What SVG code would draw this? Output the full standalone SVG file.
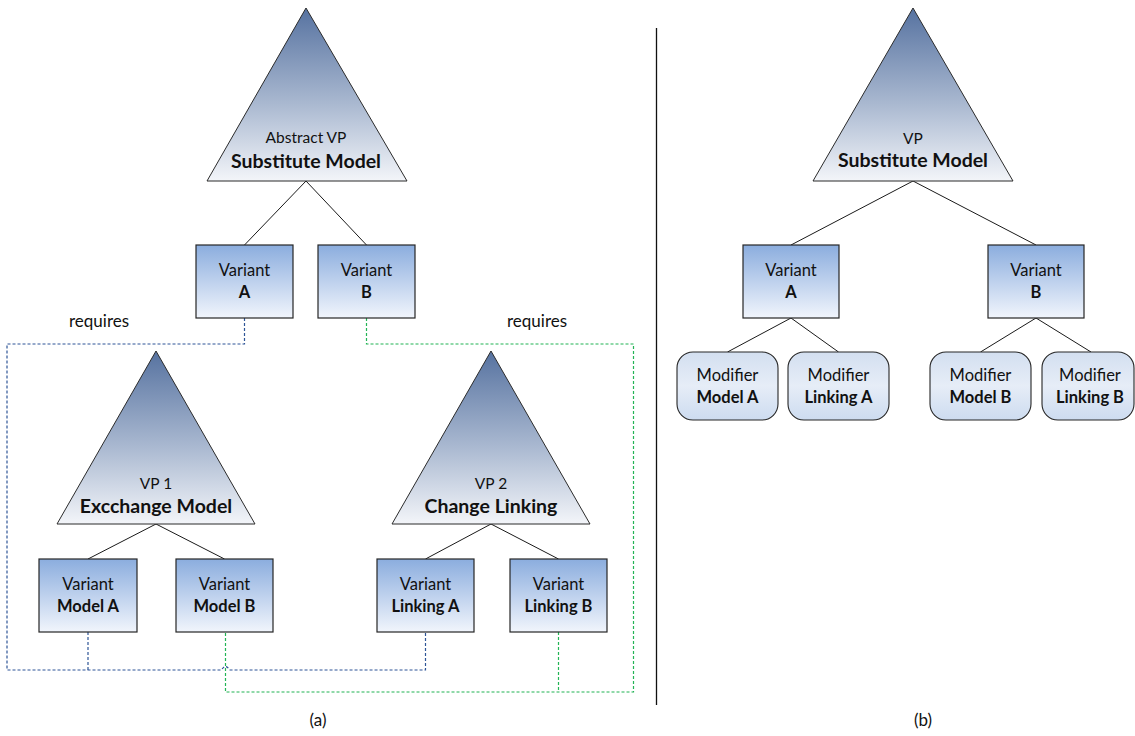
<svg xmlns="http://www.w3.org/2000/svg" width="1135" height="736" viewBox="0 0 1135 736">
  <defs>
    <linearGradient id="gradVP" x1="0" y1="0" x2="0" y2="1">
      <stop offset="0" stop-color="#5672a0"/>
      <stop offset="0.55" stop-color="#a9b8d0"/>
      <stop offset="1" stop-color="#f3f5f9"/>
    </linearGradient>
    <linearGradient id="gradVariant" x1="0" y1="0" x2="0" y2="1">
      <stop offset="0" stop-color="#8badde"/>
      <stop offset="1" stop-color="#f1f5fc"/>
    </linearGradient>
    <linearGradient id="gradModifier" x1="0" y1="0" x2="0" y2="1">
      <stop offset="0" stop-color="#d3dff0"/>
      <stop offset="0.5" stop-color="#e6edf7"/>
      <stop offset="1" stop-color="#cddcf0"/>
    </linearGradient>
  </defs>
  <style>
    .vp { fill: url(#gradVP); stroke: #2b2b2b; stroke-width: 1; }
    .variant { fill: url(#gradVariant); stroke: #262626; stroke-width: 1.2; }
    .modifier { fill: url(#gradModifier); stroke: #262626; stroke-width: 1.1; }
    .edge { fill: none; stroke: #1a1a1a; stroke-width: 1; }
    .req-blue { fill: none; stroke: #2e5597; stroke-width: 1.2; stroke-dasharray: 3 2; }
    .req-green { fill: none; stroke: #22b455; stroke-width: 1.2; stroke-dasharray: 3 2; }
    .divider { stroke: #111; stroke-width: 1.3; }
    text { font-family: Lato, "Liberation Sans", sans-serif; fill: #111; text-anchor: middle; }
    .t { font-size: 16.5px; }
    .tb { font-size: 16.5px; font-weight: bold; }
    .vpt { font-size: 15.5px; }
    .vpb { font-size: 19.5px; font-weight: bold; }
    .lbl { font-size: 17px; text-anchor: start; }
    .cap { font-size: 17px; }
  </style>

  <!-- tree edges and requires links -->
  <g id="connectors">
    <!-- (a) top variation point to its variants -->
    <path class="edge" d="M306,181 L244.5,245 M306,181 L366.5,245"/>
    <!-- (a) VP 1 -->
    <path class="edge" d="M156,524 L88,559 M156,524 L224.5,559"/>
    <!-- (a) VP 2 -->
    <path class="edge" d="M491,524 L425.5,559 M491,524 L558.5,559"/>
    <!-- (b) -->
    <path class="edge" d="M913,181 L791,245 M913,181 L1036,245"/>
    <path class="edge" d="M791,318 L727.5,352 M791,318 L838.5,352"/>
    <path class="edge" d="M1036,318 L980.5,352 M1036,318 L1091,352"/>

    <!-- Variant A requires Model A and Linking A -->
    <path class="req-blue" d="M244.5,318 V344 H7 V670 H221.5 Q225.5,663 229.5,670 H425.5 V632"/>
    <path class="req-blue" d="M88,632 V670"/>
    <!-- Variant B requires Model B and Linking B -->
    <path class="req-green" d="M366.5,318 V344 H633.5 V692 H225.5 V632"/>
    <path class="req-green" d="M558.5,632 V692"/>

    <line class="divider" x1="656.5" y1="28" x2="656.5" y2="705"/>
  </g>

  <!-- (a) -->
  <g id="vp-substitute-a">
    <polygon class="vp" points="306,8 407,181 207,181"/>
    <text class="vpt" x="306" y="143">Abstract VP</text>
    <text class="vpb" x="306" y="168">Substitute Model</text>
  </g>
  <g id="variant-a">
    <rect class="variant" x="196" y="245" width="97" height="73"/>
    <text class="t" x="244.5" y="276">Variant</text>
    <text class="tb" x="244.5" y="298">A</text>
  </g>
  <g id="variant-b">
    <rect class="variant" x="318" y="245" width="97" height="73"/>
    <text class="t" x="366.5" y="276">Variant</text>
    <text class="tb" x="366.5" y="298">B</text>
  </g>
  <g id="requires-left">
    <text class="lbl" x="69" y="327">requires</text>
  </g>
  <g id="requires-right">
    <text class="lbl" x="507" y="327">requires</text>
  </g>
  <g id="vp1">
    <polygon class="vp" points="156,351 255,524 57,524"/>
    <text class="vpt" x="156" y="489">VP 1</text>
    <text class="vpb" x="156" y="513">Excchange Model</text>
  </g>
  <g id="vp2">
    <polygon class="vp" points="491,351 590,524 392,524"/>
    <text class="vpt" x="491" y="489">VP 2</text>
    <text class="vpb" x="491" y="513">Change Linking</text>
  </g>
  <g id="variant-model-a">
    <rect class="variant" x="39" y="559" width="98" height="73"/>
    <text class="t" x="88" y="590">Variant</text>
    <text class="tb" x="88" y="612">Model A</text>
  </g>
  <g id="variant-model-b">
    <rect class="variant" x="176" y="559" width="97" height="73"/>
    <text class="t" x="224.5" y="590">Variant</text>
    <text class="tb" x="224.5" y="612">Model B</text>
  </g>
  <g id="variant-linking-a">
    <rect class="variant" x="377" y="559" width="97" height="73"/>
    <text class="t" x="425.5" y="590">Variant</text>
    <text class="tb" x="425.5" y="612">Linking A</text>
  </g>
  <g id="variant-linking-b">
    <rect class="variant" x="510" y="559" width="97" height="73"/>
    <text class="t" x="558.5" y="590">Variant</text>
    <text class="tb" x="558.5" y="612">Linking B</text>
  </g>
  <text class="cap" x="318" y="726">(a)</text>

  <!-- (b) -->
  <g id="vp-substitute-b">
    <polygon class="vp" points="913,8 1013,181 813,181"/>
    <text class="vpt" x="913" y="144">VP</text>
    <text class="vpb" x="913" y="167">Substitute Model</text>
  </g>
  <g id="b-variant-a">
    <rect class="variant" x="743" y="245" width="96" height="73"/>
    <text class="t" x="791" y="276">Variant</text>
    <text class="tb" x="791" y="298">A</text>
  </g>
  <g id="b-variant-b">
    <rect class="variant" x="988" y="245" width="96" height="73"/>
    <text class="t" x="1036" y="276">Variant</text>
    <text class="tb" x="1036" y="298">B</text>
  </g>
  <g id="modifier-model-a">
    <rect class="modifier" x="677" y="352" width="101" height="68" rx="16" ry="16"/>
    <text class="t" x="727.5" y="381">Modifier</text>
    <text class="tb" x="727.5" y="403">Model A</text>
  </g>
  <g id="modifier-linking-a">
    <rect class="modifier" x="788" y="352" width="101" height="68" rx="16" ry="16"/>
    <text class="t" x="838.5" y="381">Modifier</text>
    <text class="tb" x="838.5" y="403">Linking A</text>
  </g>
  <g id="modifier-model-b">
    <rect class="modifier" x="930" y="352" width="101" height="68" rx="16" ry="16"/>
    <text class="t" x="980.5" y="381">Modifier</text>
    <text class="tb" x="980.5" y="403">Model B</text>
  </g>
  <g id="modifier-linking-b">
    <rect class="modifier" x="1042" y="352" width="92" height="68" rx="16" ry="16"/>
    <text class="t" x="1090" y="381">Modifier</text>
    <text class="tb" x="1090" y="403">Linking B</text>
  </g>
  <text class="cap" x="923" y="726">(b)</text>
</svg>
